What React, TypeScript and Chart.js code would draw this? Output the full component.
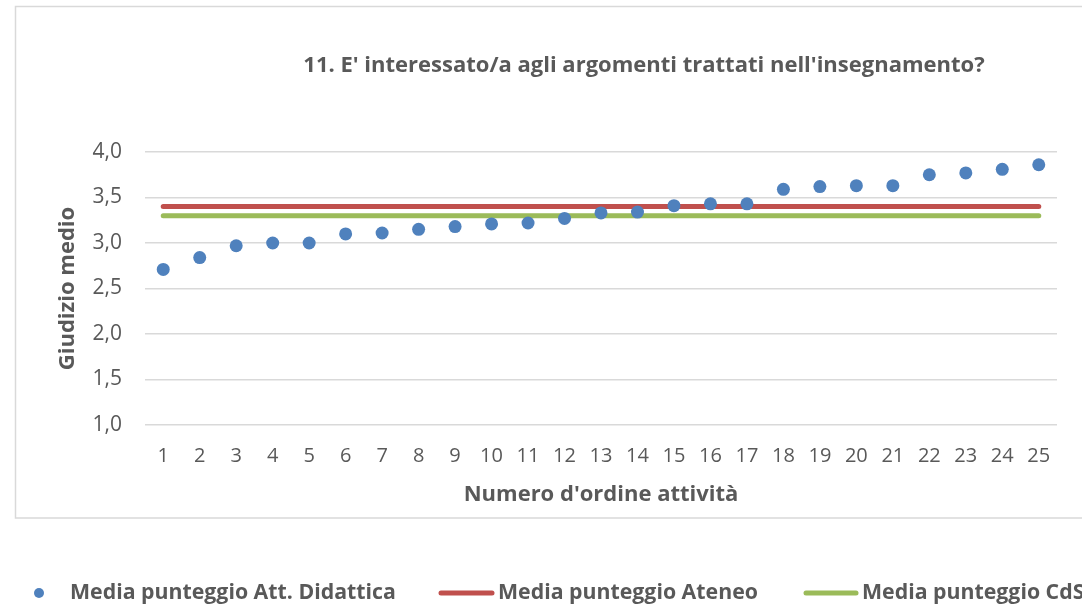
import React, { useEffect, useRef } from 'react';
import { Chart, registerables } from 'chart.js';

Chart.register(...registerables);

// ---------- data ----------
const chartTitle = "11. E' interessato/a agli argomenti trattati nell'insegnamento?";
const xAxisTitle = "Numero d'ordine attività";
const yAxisTitle = 'Giudizio medio';

const categories = [
  '1', '2', '3', '4', '5', '6', '7', '8', '9', '10', '11', '12', '13',
  '14', '15', '16', '17', '18', '19', '20', '21', '22', '23', '24', '25',
];

const seriesLabels = [
  'Media punteggio Att. Didattica',
  'Media punteggio Ateneo',
  'Media punteggio CdS',
];

const mediaAttDidattica = [
  2.71, 2.84, 2.97, 3.0, 3.0, 3.1, 3.11, 3.15, 3.18, 3.21, 3.22, 3.27, 3.33,
  3.34, 3.41, 3.43, 3.43, 3.59, 3.62, 3.63, 3.63, 3.75, 3.77, 3.81, 3.86,
];

const mediaAteneo = [
  3.4, 3.4, 3.4, 3.4, 3.4, 3.4, 3.4, 3.4, 3.4, 3.4, 3.4, 3.4, 3.4,
  3.4, 3.4, 3.4, 3.4, 3.4, 3.4, 3.4, 3.4, 3.4, 3.4, 3.4, 3.4,
];

const mediaCdS = [
  3.3, 3.3, 3.3, 3.3, 3.3, 3.3, 3.3, 3.3, 3.3, 3.3, 3.3, 3.3, 3.3,
  3.3, 3.3, 3.3, 3.3, 3.3, 3.3, 3.3, 3.3, 3.3, 3.3, 3.3, 3.3,
];

const yMin = 1.0;
const yMax = 4.0;
const yStep = 0.5;

// ---------- style ----------
const W = 1082;
const H = 609;
const FONT = "'Open Sans', 'DejaVu Sans', sans-serif";
const TEXT = '#595959';
const GRID = '#D9D9D9';
const BLUE = '#4F81BD';
const RED = '#C0504D';
const GREEN = '#9BBB59';

const framePlugin = {
  id: 'frame',
  beforeDraw(chart: any) {
    const { ctx } = chart;
    ctx.save();
    ctx.fillStyle = '#FFFFFF';
    ctx.fillRect(0, 0, chart.width, chart.height);
    ctx.strokeStyle = GRID;
    ctx.lineWidth = 1.5;
    ctx.strokeRect(15.5, 6.5, 1200, 511.5);
    ctx.restore();
  },
};

const titlePlugin = {
  id: 'customTitle',
  afterDraw(chart: any) {
    const { ctx } = chart;
    ctx.save();
    ctx.font = `bold 22px ${FONT}`;
    ctx.fillStyle = TEXT;
    ctx.textAlign = 'center';
    ctx.textBaseline = 'middle';
    ctx.fillText(chartTitle, 644, 66);
    ctx.restore();
  },
};

const legendPlugin = {
  id: 'customLegend',
  afterDraw(chart: any) {
    const { ctx } = chart;
    const y = 593;
    const ds = chart.data.datasets;
    ctx.save();
    ctx.font = `bold 21.3px ${FONT}`;
    ctx.fillStyle = TEXT;
    ctx.textAlign = 'left';
    ctx.textBaseline = 'middle';

    // item 0: marker dot
    ctx.beginPath();
    ctx.fillStyle = ds[0].backgroundColor;
    ctx.arc(39, y, 5, 0, Math.PI * 2);
    ctx.fill();
    ctx.fillStyle = TEXT;
    ctx.fillText(ds[0].label, 70, y);

    // item 1 & 2: lines
    const items = [
      { i: 1, x0: 441, x1: 492, tx: 498 },
      { i: 2, x0: 806, x1: 856, tx: 862 },
    ];
    items.forEach((it) => {
      ctx.beginPath();
      ctx.strokeStyle = ds[it.i].borderColor;
      ctx.lineWidth = 5;
      ctx.lineCap = 'round';
      ctx.moveTo(it.x0, y);
      ctx.lineTo(it.x1, y);
      ctx.stroke();
      ctx.fillStyle = TEXT;
      ctx.fillText(ds[it.i].label, it.tx, y);
    });
    ctx.restore();
  },
};

export default function App() {
  const canvasRef = useRef<HTMLCanvasElement | null>(null);

  useEffect(() => {
    if (!canvasRef.current) return;
    const chart = new Chart(canvasRef.current, {
      type: 'line',
      data: {
        labels: categories,
        datasets: [
          {
            label: seriesLabels[0],
            data: mediaAttDidattica,
            showLine: false,
            backgroundColor: BLUE,
            borderColor: BLUE,
            pointRadius: 6.5,
            pointBorderWidth: 0,
            pointBackgroundColor: BLUE,
            pointHoverRadius: 6.5,
          },
          {
            label: seriesLabels[1],
            data: mediaAteneo,
            borderColor: RED,
            backgroundColor: RED,
            borderWidth: 5,
            borderCapStyle: 'round',
            pointRadius: 0,
            fill: false,
          },
          {
            label: seriesLabels[2],
            data: mediaCdS,
            borderColor: GREEN,
            backgroundColor: GREEN,
            borderWidth: 5,
            borderCapStyle: 'round',
            pointRadius: 0,
            fill: false,
          },
        ],
      },
      options: {
        responsive: false,
        animation: false,
        devicePixelRatio: 1,
        layout: { padding: { left: 0, right: 25, top: 152, bottom: 84 } },
        plugins: {
          legend: { display: false },
          title: { display: false },
          tooltip: { enabled: false },
        },
        scales: {
          x: {
            type: 'category',
            offset: true,
            grid: { display: false, drawTicks: false },
            border: { display: false },
            ticks: {
              color: TEXT,
              font: { family: FONT, size: 20 },
              padding: 19,
              maxRotation: 0,
              autoSkip: false,
            },
            title: {
              display: true,
              text: xAxisTitle,
              color: TEXT,
              font: { family: FONT, size: 22, weight: 'bold' },
              padding: { top: 0, bottom: 17 },
            },
            afterFit: (scale: any) => {
              scale.height = 100;
            },
          },
          y: {
            min: yMin,
            max: yMax,
            grid: { color: GRID, lineWidth: 1.5, drawTicks: false },
            border: { display: false },
            ticks: {
              stepSize: yStep,
              color: TEXT,
              font: { family: FONT, size: 21 },
              padding: 23,
              callback: (v: any) => Number(v).toFixed(1).replace('.', ','),
            },
            title: {
              display: true,
              text: yAxisTitle,
              color: TEXT,
              font: { family: FONT, size: 22, weight: 'bold' },
              padding: { top: 55, bottom: 0 },
            },
            afterFit: (scale: any) => {
              scale.width = 145;
            },
          },
        },
      },
      plugins: [framePlugin, titlePlugin, legendPlugin],
    } as any);

    let alive = true;
    if ((document as any).fonts && (document as any).fonts.load) {
      Promise.all([
        (document as any).fonts.load(`20px 'Open Sans'`),
        (document as any).fonts.load(`bold 22px 'Open Sans'`),
      ])
        .then(() => {
          if (alive) chart.update();
        })
        .catch(() => {});
    }
    return () => {
      alive = false;
      chart.destroy();
    };
  }, []);

  return (
    <div
      style={{
        position: 'absolute',
        left: 0,
        top: 0,
        width: W,
        height: H,
        overflow: 'hidden',
        background: '#FFFFFF',
      }}
    >
      <canvas ref={canvasRef} width={W} height={H} style={{ display: 'block', width: W, height: H }} />
    </div>
  );
}
